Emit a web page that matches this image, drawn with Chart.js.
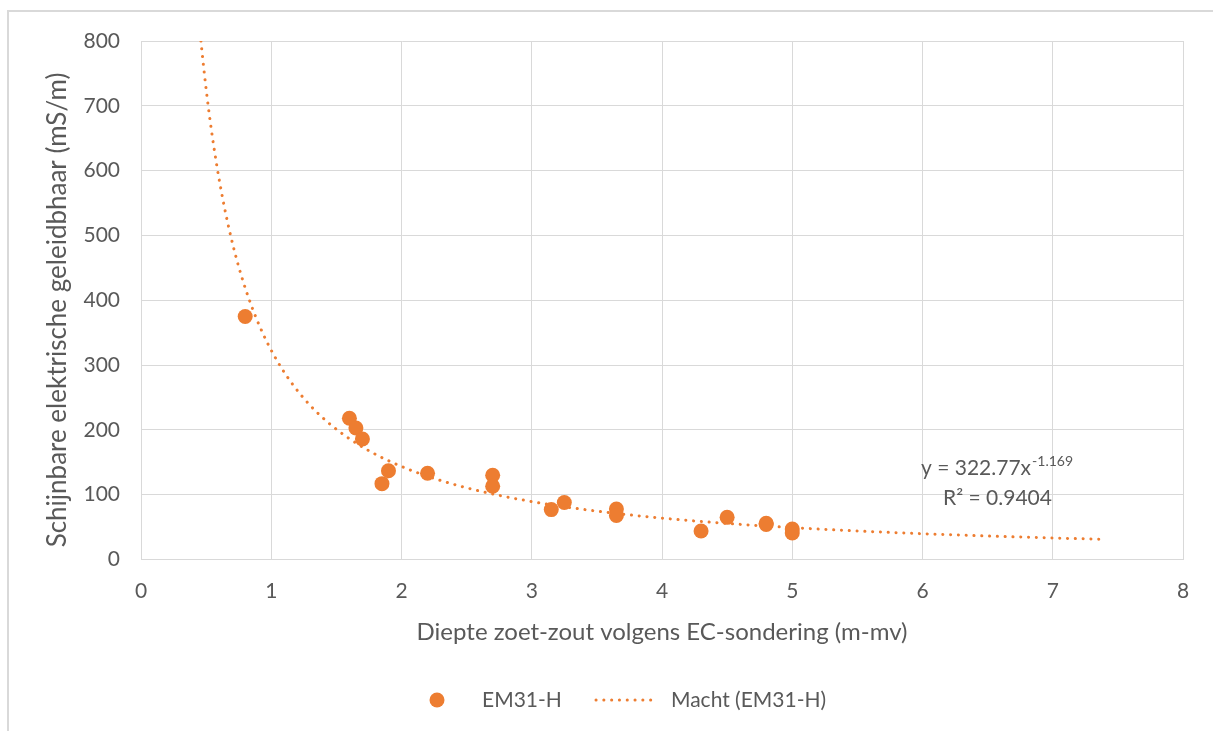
<!DOCTYPE html>
<html>
<head>
<meta charset="utf-8">
<script src="https://cdn.jsdelivr.net/npm/chart.js@4/dist/chart.umd.min.js"></script>
<style>
  html, body { margin: 0; padding: 0; background: #ffffff; }
  #wrap { position: relative; width: 1213px; height: 731px; }
  canvas { display: block; }
</style>
</head>
<body>
<div id="wrap"><canvas id="c" width="1213" height="731"></canvas></div>
<script>
// EM31-H measurements: depth of the fresh/salt interface vs apparent conductivity
const depthValues = [0.8, 1.6, 1.65, 1.7, 1.85, 1.9, 2.2, 2.7, 2.7, 3.15, 3.25, 3.65, 3.65, 4.3, 4.5, 4.8, 4.8, 5.0, 5.0];
const conductivityValues = [375, 218, 203, 186, 117, 137, 133, 130, 113, 77, 88, 78, 68, 44, 65, 54, 56, 47, 41];

// Power trendline as stated in the equation label: y = a * x^b
const powerCoefA = 322.77;
const powerCoefB = -1.169;
const rSquared = 0.9404;
const trendStartX = 0.46;
const trendEndX = 7.37;

const xTicks = [0, 1, 2, 3, 4, 5, 6, 7, 8];
const yTicks = [0, 100, 200, 300, 400, 500, 600, 700, 800];

const seriesName = 'EM31-H';
const trendName = 'Macht (EM31-H)';
const xTitle = 'Diepte zoet-zout volgens EC-sondering (m-mv)';
const yTitle = 'Schijnbare elektrische geleidbhaar (mS/m)';

const ORANGE = '#ED7D31';
const TEXT = '#595959';
const GRID = '#D9D9D9';
const FONT = 'Lato, "Open Sans", sans-serif';
const FS = 21;
const X_TITLE_FS = 24;
const Y_TITLE_FS = 26;

const scatterPoints = depthValues.map((x, i) => ({ x: x, y: conductivityValues[i] }));

const trendPoints = [];
for (let x = trendStartX; x <= trendEndX + 1e-9; x += 0.01) {
  trendPoints.push({ x: x, y: powerCoefA * Math.pow(x, powerCoefB) });
}

const decorations = {
  id: 'decorations',
  beforeDraw(chart) {
    const ctx = chart.ctx;
    ctx.save();
    ctx.fillStyle = '#ffffff';
    ctx.fillRect(0, 0, chart.width, chart.height);
    // outer chart frame
    ctx.strokeStyle = '#D9D9D9';
    ctx.lineWidth = 2;
    ctx.strokeRect(8, 11, chart.width + 20, chart.height + 20);
    ctx.restore();
  },
  afterDraw(chart) {
    const ctx = chart.ctx;
    ctx.save();
    ctx.fillStyle = TEXT;

    // axis titles
    ctx.textAlign = 'center';
    ctx.textBaseline = 'middle';
    ctx.font = X_TITLE_FS + 'px ' + FONT;
    ctx.fillText(xTitle, 662, 632);
    ctx.save();
    ctx.font = Y_TITLE_FS + 'px ' + FONT;
    ctx.translate(58, 310);
    ctx.rotate(-Math.PI / 2);
    ctx.fillText(yTitle, 0, 0);
    ctx.restore();

    // trendline equation
    ctx.textAlign = 'left';
    ctx.textBaseline = 'alphabetic';
    ctx.font = FS + 'px ' + FONT;
    const eqMain = 'y = ' + powerCoefA.toFixed(2) + 'x';
    const eqX = 921;
    ctx.fillText(eqMain, eqX, 475);
    const w = ctx.measureText(eqMain).width;
    ctx.font = '14px ' + FONT;
    ctx.fillText(powerCoefB.toFixed(3), eqX + w + 1, 466);
    ctx.font = FS + 'px ' + FONT;
    ctx.fillText('R\u00B2 = ' + rSquared.toFixed(4), 943, 505);

    // legend
    const ly = 700;
    ctx.fillStyle = ORANGE;
    ctx.beginPath();
    ctx.arc(437, ly, 7.5, 0, Math.PI * 2);
    ctx.fill();
    ctx.fillStyle = TEXT;
    ctx.font = FS + 'px ' + FONT;
    ctx.textBaseline = 'middle';
    ctx.fillText(seriesName, 482, ly);
    ctx.strokeStyle = ORANGE;
    ctx.lineWidth = 3;
    ctx.lineCap = 'round';
    ctx.setLineDash([0.1, 7.7]);
    ctx.beginPath();
    ctx.moveTo(596, ly);
    ctx.lineTo(657, ly);
    ctx.stroke();
    ctx.setLineDash([]);
    ctx.fillText(trendName, 671, ly);
    ctx.restore();
  }
};

new Chart(document.getElementById('c'), {
  type: 'scatter',
  data: {
    datasets: [
      {
        label: trendName,
        data: trendPoints,
        showLine: true,
        borderColor: ORANGE,
        borderWidth: 3,
        borderDash: [0.1, 7.7],
        borderCapStyle: 'round',
        pointRadius: 0,
        fill: false,
        order: 2
      },
      {
        label: seriesName,
        data: scatterPoints,
        backgroundColor: ORANGE,
        borderColor: ORANGE,
        borderWidth: 0,
        pointRadius: 7.5,
        pointHoverRadius: 7.5,
        order: 1
      }
    ]
  },
  options: {
    responsive: false,
    animation: false,
    events: [],
    layout: { padding: { top: 41, right: 30, left: 0, bottom: 0 } },
    plugins: { legend: { display: false }, tooltip: { enabled: false } },
    scales: {
      x: {
        type: 'linear',
        min: 0, max: 8,
        afterBuildTicks(scale) { scale.ticks = xTicks.map(v => ({ value: v })); },
        afterFit(scale) { scale.height = 171.5; },
        grid: { color: GRID, lineWidth: 1, drawTicks: false },
        border: { color: GRID, width: 1 },
        ticks: { color: TEXT, font: { size: FS, family: FONT }, padding: 19, maxRotation: 0 }
      },
      y: {
        type: 'linear',
        min: 0, max: 800,
        afterBuildTicks(scale) { scale.ticks = yTicks.map(v => ({ value: v })); },
        afterFit(scale) { scale.width = 141; },
        grid: { color: GRID, lineWidth: 1, drawTicks: false },
        border: { color: GRID, width: 1 },
        ticks: { color: TEXT, font: { size: FS, family: FONT }, padding: 21 }
      }
    }
  },
  plugins: [decorations]
});
</script>
</body>
</html>
